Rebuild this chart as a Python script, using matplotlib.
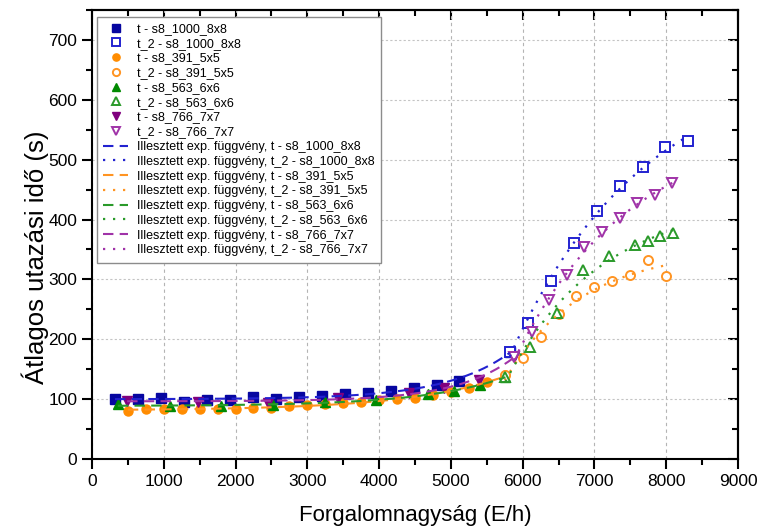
import numpy as np
import matplotlib
matplotlib.use('Agg')
import matplotlib.pyplot as plt
from matplotlib.ticker import MultipleLocator

plt.rcParams['font.family'] = ['Liberation Sans', 'DejaVu Sans']

# t - s8_1000_8x8 / t_2 - s8_1000_8x8
x_1000_t = [320, 640, 960, 1280, 1600, 1920, 2240, 2560, 2880, 3200, 3520,
            3840, 4160, 4480, 4800, 5120, 5820]
y_1000_t = [100, 100, 102, 96, 98, 99, 103, 101, 103, 106, 109,
            111, 113, 118, 124, 130, 179]
x_1000_t2 = [5820, 6080, 6390, 6720, 7030, 7350, 7680, 7990, 8310]
y_1000_t2 = [179, 228, 297, 361, 414, 456, 487, 522, 531]

# t - s8_391_5x5 / t_2 - s8_391_5x5
x_391_t = [500, 750, 1000, 1250, 1500, 1750, 2000, 2250, 2500, 2750, 3000,
           3250, 3500, 3750, 4000, 4250, 4500, 4750, 5000, 5250, 5500, 5750]
y_391_t = [80.5, 83, 83, 83, 83, 83, 84, 86, 86, 88, 90,
           92, 94, 95.5, 98, 100, 102, 107, 112, 119, 128, 140]
x_391_t2 = [5750, 6000, 6250, 6500, 6750, 7000, 7250, 7500, 7750, 8000]
y_391_t2 = [140, 168, 203, 243, 272, 288, 298, 307, 332, 306]

# t - s8_563_6x6 / t_2 - s8_563_6x6
x_563_t = [360, 1080, 1800, 2520, 3240, 3960, 4680, 5040, 5400, 5760]
y_563_t = [92, 88, 88, 90, 95.5, 99, 108, 114, 123, 137]
x_563_t2 = [5760, 6100, 6480, 6840, 7200, 7560, 7740, 7920, 8100]
y_563_t2 = [137, 187, 244, 316, 339, 358, 365, 372, 378]

# t - s8_766_7x7 / t_2 - s8_766_7x7
x_766_t = [490, 1470, 2450, 3430, 4410, 4900, 5390, 5880]
y_766_t = [97, 96, 94, 102, 111, 119, 132, 171]
x_766_t2 = [5880, 6125, 6370, 6615, 6860, 7105, 7350, 7595, 7840, 8085]
y_766_t2 = [171, 213, 266, 308, 354, 380, 402, 427, 441, 461]

names = ['s8_1000_8x8', 's8_391_5x5', 's8_563_6x6', 's8_766_7x7']
t_data = [(x_1000_t, y_1000_t), (x_391_t, y_391_t), (x_563_t, y_563_t), (x_766_t, y_766_t)]
t2_data = [(x_1000_t2, y_1000_t2), (x_391_t2, y_391_t2), (x_563_t2, y_563_t2), (x_766_t2, y_766_t2)]
markers = ['s', 'o', '^', 'v']
pt_colors = ['#0606a0', '#ff8c00', '#008a00', '#80007e']
fit_colors = ['#2222d0', '#ff9422', '#2a9a2a', '#a033a8']


def exp_fit(x, y):
    # y = y0 + A*exp(k*x), grid search on k, least squares for y0, A
    xs = np.asarray(x, float) / 1000.0
    ys = np.asarray(y, float)
    best = None
    for k in np.linspace(-3, 3, 3001):
        if abs(k) < 1e-3:
            continue
        M = np.column_stack([np.ones_like(xs), np.exp(k * xs)])
        coef = np.linalg.lstsq(M, ys, rcond=None)[0]
        err = np.sum((M @ coef - ys) ** 2)
        if best is None or err < best[0]:
            best = (err, k, coef)
    _, k, coef = best
    xf = np.linspace(xs.min(), xs.max(), 200)
    return xf * 1000, coef[0] + coef[1] * np.exp(k * xf)


fig = plt.figure(figsize=(7.59, 5.29), dpi=100)
ax = fig.add_axes([0.1212, 0.1323, 0.8511, 0.8487])

sc_handles = []
for i in range(4):
    h1, = ax.plot(t_data[i][0], t_data[i][1], ls='none', marker=markers[i], ms=6.5,
                  color=pt_colors[i], mec=pt_colors[i], label='t - ' + names[i], zorder=3)
    sc_handles.append(h1)
for i in range(4):
    h2, = ax.plot(t2_data[i][0], t2_data[i][1], ls='none', marker=markers[i], ms=6.5,
                  mfc='white', mec=fit_colors[i], mew=1.4, label='t_2 - ' + names[i], zorder=4)
    sc_handles.insert(2 * i + 1, h2)
fit_handles = []
for i in range(4):
    xf, yf = exp_fit(*t_data[i])
    f1, = ax.plot(xf, yf, color=fit_colors[i], lw=1.5, dashes=(5, 3), zorder=5,
                  label='Illesztett exp. függvény, t - ' + names[i])
    xf, yf = exp_fit(*t2_data[i])
    f2, = ax.plot(xf, yf, color=fit_colors[i], lw=1.6, dashes=(1, 3.5), zorder=5,
                  label='Illesztett exp. függvény, t_2 - ' + names[i])
    fit_handles += [f1, f2]

handles = sc_handles + fit_handles
leg = ax.legend(handles, [hh.get_label() for hh in handles], loc='upper left',
                bbox_to_anchor=(0.008, 0.985), borderaxespad=0, fontsize=9,
                labelspacing=0.22, handlelength=2.0, handletextpad=0.7, numpoints=1,
                markerscale=0.8, fancybox=False, framealpha=1,
                edgecolor='#8c8c8c', borderpad=0.5)
leg.get_frame().set_linewidth(1.0)

ax.set_xlim(0, 9000)
ax.set_ylim(0, 750)
ax.xaxis.set_major_locator(MultipleLocator(1000))
ax.xaxis.set_minor_locator(MultipleLocator(500))
ax.yaxis.set_major_locator(MultipleLocator(100))
ax.yaxis.set_minor_locator(MultipleLocator(50))

ax.grid(True, axis='x', which='major', color='#b4b4b4', ls=(0, (3, 3)), lw=0.8)
ax.grid(True, axis='y', which='major', color='#c4c4c4', ls=(0, (2, 2)), lw=0.8)
ax.set_axisbelow(True)

for s in ax.spines.values():
    s.set_linewidth(1.5)
ax.tick_params(axis='both', which='major', direction='out', length=7, width=1.5,
               labelsize=12.5)
ax.tick_params(axis='both', which='minor', direction='out', length=4, width=1.5)
ax.tick_params(axis='both', which='both', top=False, right=False)
ax2 = ax.secondary_xaxis('top')
ax2.xaxis.set_major_locator(MultipleLocator(1000))
ax2.xaxis.set_minor_locator(MultipleLocator(500))
ax2.tick_params(which='major', direction='in', length=7, width=1.5, labeltop=False)
ax2.tick_params(which='minor', direction='in', length=4, width=1.5)
ax3 = ax.secondary_yaxis('right')
ax3.yaxis.set_major_locator(MultipleLocator(100))
ax3.yaxis.set_minor_locator(MultipleLocator(50))
ax3.tick_params(which='major', direction='in', length=7, width=1.5, labelright=False)
ax3.tick_params(which='minor', direction='in', length=4, width=1.5)
ax2.spines['top'].set_linewidth(1.5)
ax3.spines['right'].set_linewidth(1.5)

ax.set_xlabel('Forgalomnagyság (E/h)', fontsize=16, labelpad=12)
ax.set_ylabel('Átlagos utazási idő (s)', fontsize=18.5)
ax.yaxis.set_label_coords(-0.066, 0.45)

fig.savefig('out.png', dpi=100)
